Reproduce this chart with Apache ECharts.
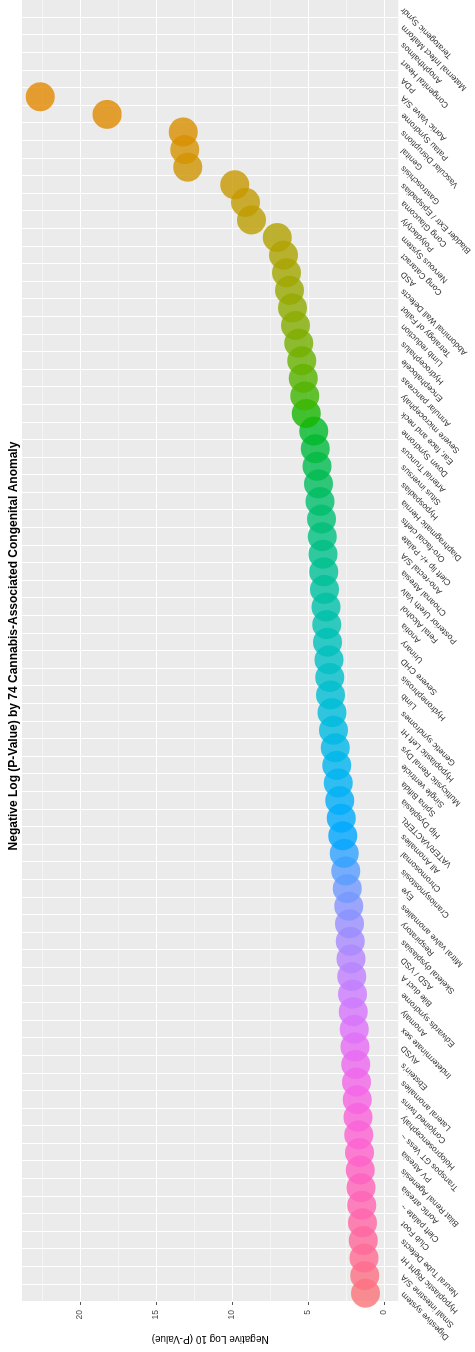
<!DOCTYPE html>
<html><head><meta charset="utf-8">
<script src="https://cdn.jsdelivr.net/npm/echarts@6/dist/echarts.min.js"></script>
<style>html,body{margin:0;padding:0;background:#fff;overflow:hidden;width:475px;height:1352px}
#c{position:absolute;left:0;top:0;width:1352px;height:475px;transform-origin:0 0;transform:rotate(-90deg) translate(-1352px,0)}</style>
</head><body><div id="c"></div>
<script>
const categories = ["Digestive system","Small intestine S/A","Hypoplastic Right Ht","Neural Tube Defects","Club Foot","Cleft palate ~","Aortic atresia","Bilat Renal Agenesis","PV Atresia","Transpos GT Vess ~","Holoprosencephaly","Conjoined twins","Lateral anomalies","Ebstein's","AVSD","Indeterminate sex","Anomaly","Edwards syndrome","Bile duct A","ASD / VSD","Skeletal dysplasias","Respiratory","Mitral valve anomalies","Eye","Craniosynostosis","Chromosomal","All Anomalies","VATER/VACTERL","Hip Dysplasia","Spina Bifida","Single ventricle","Multicystic Renal Dys","Hypoplastic Left Ht","Genetic syndromes","Limb","Hydronephrosis","Severe CHD","Urinary","Anotia","Fetal Alcohol","Posterior Ureth Valv","Choanal Atresia","Ano-rectal S/A","Cleft lip +/- Palate","Oro-facial clefts","Diaphragmatic Hernia","Hypospadias","Situs inversus","Arterial Truncus","Down Syndrome","Ear, face and neck","Severe microcephaly","Annular pancreas","Encephalocele","Hydrocephalus","Limb reduction","Tetralogy of Fallot","Abdominal Wall Defects","ASD","Cong Cataract","Nervous System","Polydactyly","Cong Glaucoma","Bladder Extr / Epispadias","Gastroschisis","Genital","Vascular Disruptions","Patau Syndrome","Aortic Valve S/A","PDA","Congenital Heart","Anophthalmos","Maternal Infect Malform","Teratogenic Syndr"];
const values = [1.2,1.25,1.3,1.35,1.4,1.45,1.5,1.55,1.6,1.65,1.7,1.75,1.8,1.85,1.9,1.95,2.0,2.05,2.1,2.15,2.2,2.25,2.3,2.4,2.5,2.6,2.7,2.8,2.9,3.0,3.1,3.2,3.3,3.4,3.5,3.55,3.6,3.7,3.75,3.8,3.9,3.95,4.0,4.05,4.1,4.2,4.3,4.4,4.5,4.6,5.1,5.2,5.3,5.4,5.6,5.8,6.0,6.2,6.4,6.6,7.0,8.7,9.1,9.8,12.9,13.1,13.2,18.2,22.6];
const valueTicks = [0,5,10,15,20];

function hcl(h){
  const L=65,C=100,r=h*Math.PI/180;
  const u=C*Math.cos(r), v=C*Math.sin(r);
  const Xn=95.047,Yn=100,Zn=108.883, d=Xn+15*Yn+3*Zn;
  const un=4*Xn/d, vn=9*Yn/d;
  const Y=Math.pow((L+16)/116,3);
  const up=u/(13*L)+un, vp=v/(13*L)+vn;
  const X=Y*9*up/(4*vp), Z=Y*(12-3*up-20*vp)/(4*vp);
  let R=3.2406*X-1.5372*Y-0.4986*Z, G=-0.9689*X+1.8758*Y+0.0415*Z, B=0.0557*X-0.2040*Y+1.0570*Z;
  const g=c=>{c=c<=0.0031308?12.92*c:1.055*Math.pow(c,1/2.4)-0.055;return Math.round(Math.max(0,Math.min(1,c))*255);};
  return 'rgb('+g(R)+','+g(G)+','+g(B)+')';
}
const n=categories.length;
const data = values.map((v,j)=>({value:v,itemStyle:{color:hcl(15+360*(n-1-j)/n)}}));
const chart = echarts.init(document.getElementById('c'),null,{renderer:'canvas',width:1352,height:475});
chart.setOption({
  animation:false,
  title:{text:'Negative Log (P-Value) by 74 Cannabis-Associated Congenital Anomaly',left:701,textAlign:'center',top:3,textStyle:{fontFamily:'Liberation Sans',fontSize:12,fontWeight:'bold',color:'#000'}},
  grid:{left:50,right:0,top:22,bottom:60,show:true,backgroundColor:'#EBEBEB',borderWidth:0},
  xAxis:{type:'category',data:categories,boundaryGap:true,
    axisLine:{show:true,lineStyle:{color:'#333'}},axisTick:{alignWithLabel:true,length:3,lineStyle:{color:'#333'}},
    axisLabel:{interval:0,rotate:45,fontSize:8.5,color:'#333',fontFamily:'Liberation Sans',margin:4},
    splitLine:{show:true,interval:0,lineStyle:{color:'#fff',width:1}}},
  yAxis:{type:'value',min:-0.95,max:23.8,interval:5,
    name:'Negative Log 10 (P-Value)',nameLocation:'middle',nameRotate:90,nameGap:32,
    nameTextStyle:{fontFamily:'Liberation Sans',fontSize:10,color:'#000'},
    axisLine:{show:false},
    axisLabel:{fontSize:8.5,color:'#4D4D4D',fontFamily:'Liberation Sans',customValues:valueTicks},
    axisTick:{show:true,customValues:valueTicks,length:3},
    splitLine:{show:false},minorTick:{show:false}},
  series:[
    {type:'line',data:[],markLine:{silent:true,symbol:'none',label:{show:false},
      lineStyle:{color:'#fff',type:'solid',width:0.5},
      data:[2.5,7.5,12.5,17.5,22.5].map(y=>({yAxis:y}))}},
    {type:'line',data:[],markLine:{silent:true,symbol:'none',label:{show:false},
      lineStyle:{color:'#fff',type:'solid',width:1.1},
      data:valueTicks.map(y=>({yAxis:y}))}},
    {type:'scatter',data:data,symbolSize:29,itemStyle:{opacity:0.8},z:5}
  ]
});
</script></body></html>
